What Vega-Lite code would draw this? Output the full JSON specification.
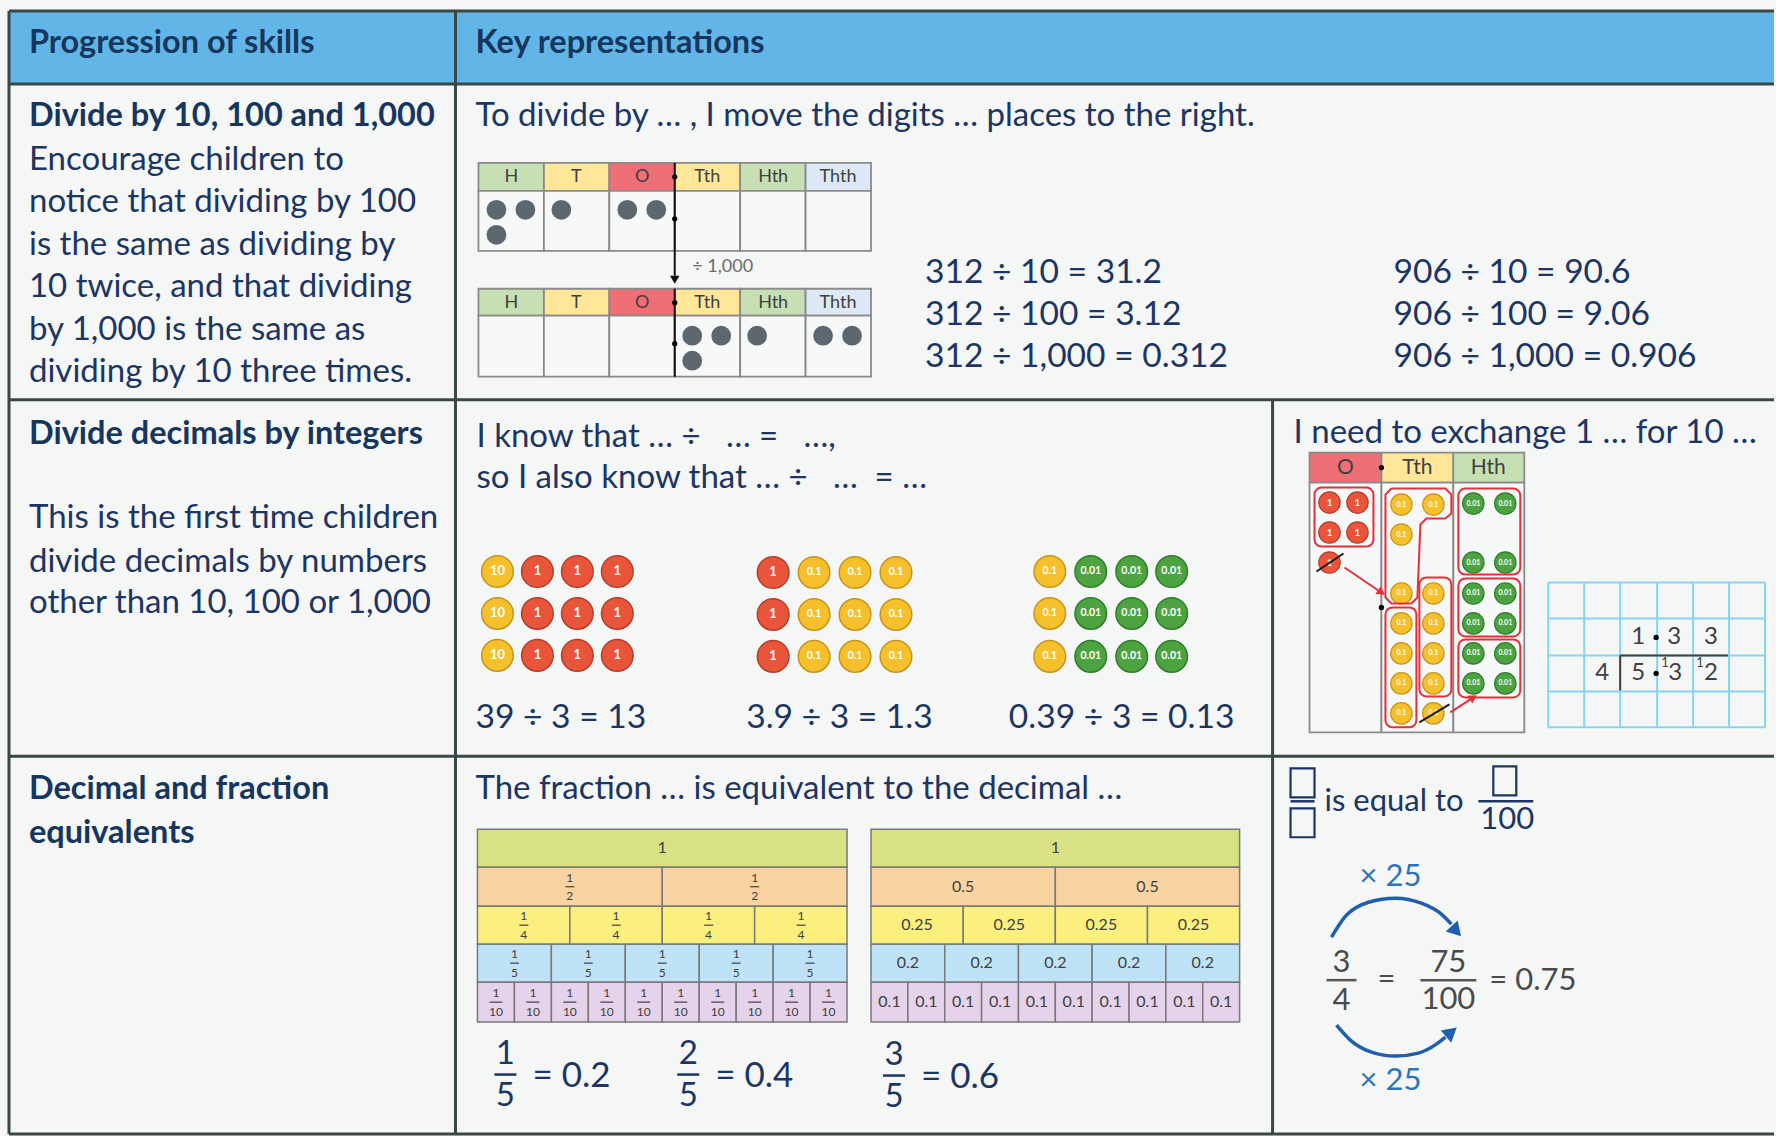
{
"$schema":"https://vega.github.io/schema/vega-lite/v6.json",
"width":1776,"height":1136,
"autosize":{"type":"fit","contains":"padding"},
"padding":0,
"background":"#f5f6f6",
"config":{"view":{"stroke":null},"text":{"font":"Lato"}},
"datasets":{
"tableLines":[
{"x":9,"y":11,"x2":1776,"y2":11},{"x":9,"y":84,"x2":1776,"y2":84},{"x":9,"y":400,"x2":1776,"y2":400},{"x":9,"y":757,"x2":1776,"y2":757},{"x":9,"y":1135,"x2":1776,"y2":1135},
{"x":9,"y":11,"x2":9,"y2":1135},{"x":456,"y":11,"x2":456,"y2":1135},{"x":1274,"y":400,"x2":1274,"y2":1135}],
"headerBand":[{"part":"header","x":9,"y":11,"x2":1776,"y2":84}],
"pvCells":[
{"zone":"H","x":479,"x2":544.5,"y":163,"y2":191},{"zone":"T","x":544.5,"x2":610,"y":163,"y2":191},{"zone":"O","x":610,"x2":675.5,"y":163,"y2":191},{"zone":"Tth","x":675.5,"x2":741,"y":163,"y2":191},{"zone":"Hth","x":741,"x2":806.5,"y":163,"y2":191},{"zone":"Thth","x":806.5,"x2":872,"y":163,"y2":191},
{"zone":"body","x":479,"x2":544.5,"y":191,"y2":251},{"zone":"body","x":544.5,"x2":610,"y":191,"y2":251},{"zone":"body","x":610,"x2":675.5,"y":191,"y2":251},{"zone":"body","x":675.5,"x2":741,"y":191,"y2":251},{"zone":"body","x":741,"x2":806.5,"y":191,"y2":251},{"zone":"body","x":806.5,"x2":872,"y":191,"y2":251},
{"zone":"H","x":479,"x2":544.5,"y":289,"y2":316},{"zone":"T","x":544.5,"x2":610,"y":289,"y2":316},{"zone":"O","x":610,"x2":675.5,"y":289,"y2":316},{"zone":"Tth","x":675.5,"x2":741,"y":289,"y2":316},{"zone":"Hth","x":741,"x2":806.5,"y":289,"y2":316},{"zone":"Thth","x":806.5,"x2":872,"y":289,"y2":316},
{"zone":"body","x":479,"x2":544.5,"y":316,"y2":377},{"zone":"body","x":544.5,"x2":610,"y":316,"y2":377},{"zone":"body","x":610,"x2":675.5,"y":316,"y2":377},{"zone":"body","x":675.5,"x2":741,"y":316,"y2":377},{"zone":"body","x":741,"x2":806.5,"y":316,"y2":377},{"zone":"body","x":806.5,"x2":872,"y":316,"y2":377},
{"zone":"O","x":1311,"x2":1383,"y":453,"y2":483},{"zone":"Tth","x":1383,"x2":1455,"y":453,"y2":483},{"zone":"Hth","x":1455,"x2":1526,"y":453,"y2":483},
{"zone":"body","x":1311,"x2":1383,"y":483,"y2":733},{"zone":"body","x":1383,"x2":1455,"y":483,"y2":733},{"zone":"body","x":1455,"x2":1526,"y":483,"y2":733}],
"wallCells":[
{"denom":"1","x":478,"x2":848,"y":830,"y2":868},
{"denom":"2","x":478,"x2":663,"y":868,"y2":907},{"denom":"2","x":663,"x2":848,"y":868,"y2":907},
{"denom":"4","x":478,"x2":570.5,"y":907,"y2":945},{"denom":"4","x":570.5,"x2":663,"y":907,"y2":945},{"denom":"4","x":663,"x2":755.5,"y":907,"y2":945},{"denom":"4","x":755.5,"x2":848,"y":907,"y2":945},
{"denom":"5","x":478,"x2":552,"y":945,"y2":983},{"denom":"5","x":552,"x2":626,"y":945,"y2":983},{"denom":"5","x":626,"x2":700,"y":945,"y2":983},{"denom":"5","x":700,"x2":774,"y":945,"y2":983},{"denom":"5","x":774,"x2":848,"y":945,"y2":983},
{"denom":"10","x":478,"x2":515,"y":983,"y2":1023},{"denom":"10","x":515,"x2":552,"y":983,"y2":1023},{"denom":"10","x":552,"x2":589,"y":983,"y2":1023},{"denom":"10","x":589,"x2":626,"y":983,"y2":1023},{"denom":"10","x":626,"x2":663,"y":983,"y2":1023},{"denom":"10","x":663,"x2":700,"y":983,"y2":1023},{"denom":"10","x":700,"x2":737,"y":983,"y2":1023},{"denom":"10","x":737,"x2":774,"y":983,"y2":1023},{"denom":"10","x":774,"x2":811,"y":983,"y2":1023},{"denom":"10","x":811,"x2":848,"y":983,"y2":1023},
{"denom":"1","x":872,"x2":1241,"y":830,"y2":868},
{"denom":"2","x":872,"x2":1056.5,"y":868,"y2":907},{"denom":"2","x":1056.5,"x2":1241,"y":868,"y2":907},
{"denom":"4","x":872,"x2":964.3,"y":907,"y2":945},{"denom":"4","x":964.3,"x2":1056.5,"y":907,"y2":945},{"denom":"4","x":1056.5,"x2":1148.8,"y":907,"y2":945},{"denom":"4","x":1148.8,"x2":1241,"y":907,"y2":945},
{"denom":"5","x":872,"x2":945.8,"y":945,"y2":983},{"denom":"5","x":945.8,"x2":1019.6,"y":945,"y2":983},{"denom":"5","x":1019.6,"x2":1093.4,"y":945,"y2":983},{"denom":"5","x":1093.4,"x2":1167.2,"y":945,"y2":983},{"denom":"5","x":1167.2,"x2":1241,"y":945,"y2":983},
{"denom":"10","x":872,"x2":908.9,"y":983,"y2":1023},{"denom":"10","x":908.9,"x2":945.8,"y":983,"y2":1023},{"denom":"10","x":945.8,"x2":982.7,"y":983,"y2":1023},{"denom":"10","x":982.7,"x2":1019.6,"y":983,"y2":1023},{"denom":"10","x":1019.6,"x2":1056.5,"y":983,"y2":1023},{"denom":"10","x":1056.5,"x2":1093.4,"y":983,"y2":1023},{"denom":"10","x":1093.4,"x2":1130.3,"y":983,"y2":1023},{"denom":"10","x":1130.3,"x2":1167.2,"y":983,"y2":1023},{"denom":"10","x":1167.2,"x2":1204.1,"y":983,"y2":1023},{"denom":"10","x":1204.1,"x2":1241,"y":983,"y2":1023}],
"pvDots":[
{"number":"312","place":"H","x":497,"y":210},{"number":"312","place":"H","x":526,"y":210},{"number":"312","place":"H","x":497,"y":235},{"number":"312","place":"T","x":562,"y":210},{"number":"312","place":"O","x":628,"y":210},{"number":"312","place":"O","x":657,"y":210},
{"number":"0.312","place":"Tth","x":693,"y":336},{"number":"0.312","place":"Tth","x":722,"y":336},{"number":"0.312","place":"Tth","x":693,"y":361},{"number":"0.312","place":"Hth","x":758,"y":336},{"number":"0.312","place":"Thth","x":824,"y":336},{"number":"0.312","place":"Thth","x":853,"y":336}],
"bigCounters":[
{"group":"39 ÷ 3","value":"10","x":498,"y":572},{"group":"39 ÷ 3","value":"1","x":538,"y":572},{"group":"39 ÷ 3","value":"1","x":578,"y":572},{"group":"39 ÷ 3","value":"1","x":618,"y":572},
{"group":"39 ÷ 3","value":"10","x":498,"y":614},{"group":"39 ÷ 3","value":"1","x":538,"y":614},{"group":"39 ÷ 3","value":"1","x":578,"y":614},{"group":"39 ÷ 3","value":"1","x":618,"y":614},
{"group":"39 ÷ 3","value":"10","x":498,"y":656},{"group":"39 ÷ 3","value":"1","x":538,"y":656},{"group":"39 ÷ 3","value":"1","x":578,"y":656},{"group":"39 ÷ 3","value":"1","x":618,"y":656},
{"group":"3.9 ÷ 3","value":"1","x":774,"y":573},{"group":"3.9 ÷ 3","value":"0.1","x":815,"y":573},{"group":"3.9 ÷ 3","value":"0.1","x":856,"y":573},{"group":"3.9 ÷ 3","value":"0.1","x":897,"y":573},
{"group":"3.9 ÷ 3","value":"1","x":774,"y":615},{"group":"3.9 ÷ 3","value":"0.1","x":815,"y":615},{"group":"3.9 ÷ 3","value":"0.1","x":856,"y":615},{"group":"3.9 ÷ 3","value":"0.1","x":897,"y":615},
{"group":"3.9 ÷ 3","value":"1","x":774,"y":657},{"group":"3.9 ÷ 3","value":"0.1","x":815,"y":657},{"group":"3.9 ÷ 3","value":"0.1","x":856,"y":657},{"group":"3.9 ÷ 3","value":"0.1","x":897,"y":657},
{"group":"0.39 ÷ 3","value":"0.1","x":1051,"y":572},{"group":"0.39 ÷ 3","value":"0.01","x":1092,"y":572},{"group":"0.39 ÷ 3","value":"0.01","x":1133,"y":572},{"group":"0.39 ÷ 3","value":"0.01","x":1173,"y":572},
{"group":"0.39 ÷ 3","value":"0.1","x":1051,"y":614},{"group":"0.39 ÷ 3","value":"0.01","x":1092,"y":614},{"group":"0.39 ÷ 3","value":"0.01","x":1133,"y":614},{"group":"0.39 ÷ 3","value":"0.01","x":1173,"y":614},
{"group":"0.39 ÷ 3","value":"0.1","x":1051,"y":657},{"group":"0.39 ÷ 3","value":"0.01","x":1092,"y":657},{"group":"0.39 ÷ 3","value":"0.01","x":1133,"y":657},{"group":"0.39 ÷ 3","value":"0.01","x":1173,"y":657}],
"smallCounters":[
{"value":"1","x":1331,"y":503},{"value":"1","x":1359,"y":503},{"value":"1","x":1331,"y":533},{"value":"1","x":1359,"y":533},{"value":"1","x":1331,"y":563},
{"value":"0.1","x":1403,"y":505},{"value":"0.1","x":1435,"y":505},{"value":"0.1","x":1403,"y":535},{"value":"0.1","x":1403,"y":594},{"value":"0.1","x":1435,"y":594},{"value":"0.1","x":1403,"y":624},{"value":"0.1","x":1435,"y":624},{"value":"0.1","x":1403,"y":654},{"value":"0.1","x":1435,"y":654},{"value":"0.1","x":1403,"y":684},{"value":"0.1","x":1435,"y":684},{"value":"0.1","x":1403,"y":714},{"value":"0.1","x":1435,"y":714},
{"value":"0.01","x":1475,"y":504},{"value":"0.01","x":1507,"y":504},{"value":"0.01","x":1475,"y":563},{"value":"0.01","x":1507,"y":563},{"value":"0.01","x":1475,"y":594},{"value":"0.01","x":1507,"y":594},{"value":"0.01","x":1475,"y":624},{"value":"0.01","x":1507,"y":624},{"value":"0.01","x":1475,"y":654},{"value":"0.01","x":1507,"y":654},{"value":"0.01","x":1475,"y":684},{"value":"0.01","x":1507,"y":684}],
"redGroups":[
{"x":1316,"x2":1375,"y":488,"y2":547},{"x":1421,"x2":1453,"y":578,"y2":697},{"x":1387,"x2":1418,"y":608,"y2":728},{"x":1460,"x2":1522,"y":489,"y2":575},{"x":1460,"x2":1522,"y":579,"y2":637},{"x":1460,"x2":1522,"y":640,"y2":698}],
"lPath":[
{"seq":1,"x":1393,"y":489},{"seq":2,"x":1447,"y":489},{"seq":3,"x":1453,"y":495},{"seq":4,"x":1453,"y":514},{"seq":5,"x":1447,"y":519},{"seq":6,"x":1428,"y":519},{"seq":7,"x":1422,"y":525},{"seq":8,"x":1419,"y":598},{"seq":9,"x":1413,"y":604},{"seq":10,"x":1393,"y":604},{"seq":11,"x":1387,"y":598},{"seq":12,"x":1387,"y":495},{"seq":13,"x":1393,"y":489}],
"thinLines":[
{"role":"decimal","x":675.5,"y":163,"x2":675.5,"y2":276},{"role":"decimal","x":675.5,"y":289,"x2":675.5,"y2":377},
{"role":"grid","x":1550,"y":583,"x2":1550,"y2":728},{"role":"grid","x":1586,"y":583,"x2":1586,"y2":728},{"role":"grid","x":1622,"y":583,"x2":1622,"y2":728},{"role":"grid","x":1659,"y":583,"x2":1659,"y2":728},{"role":"grid","x":1695,"y":583,"x2":1695,"y2":728},{"role":"grid","x":1731,"y":583,"x2":1731,"y2":728},{"role":"grid","x":1767,"y":583,"x2":1767,"y2":728},
{"role":"grid","x":1550,"y":583,"x2":1767,"y2":583},{"role":"grid","x":1550,"y":619,"x2":1767,"y2":619},{"role":"grid","x":1550,"y":656,"x2":1767,"y2":656},{"role":"grid","x":1550,"y":692,"x2":1767,"y2":692},{"role":"grid","x":1550,"y":728,"x2":1767,"y2":728},
{"role":"bracket","x":1622,"y":656,"x2":1730,"y2":656},{"role":"bracket","x":1622,"y":656,"x2":1622,"y2":691},
{"role":"cross","x":1318,"y":572,"x2":1345,"y2":554},{"role":"cross","x":1421,"y":723,"x2":1451,"y2":705},
{"role":"exchange","x":1346,"y":568,"x2":1380,"y2":591},{"role":"exchange","x":1452,"y":713,"x2":1472,"y2":700}],
"decimalDots":[
{"x":675.5,"y":177},{"x":675.5,"y":219},{"x":675.5,"y":303},{"x":675.5,"y":344},{"x":1383,"y":468},{"x":1383,"y":608},{"x":1658,"y":638},{"x":1658,"y":674}],
"heads":[
{"role":"shift","x":675.5,"y":280,"angle":90},{"role":"exchange","x":1383,"y":593,"angle":34},{"role":"exchange","x":1475,"y":698,"angle":327}],
"arcs":[
{"arc":"top","seq":1,"x":1333,"y":938},{"arc":"top","seq":2,"x":1347,"y":917},{"arc":"top","seq":3,"x":1370,"y":903},{"arc":"top","seq":4,"x":1397,"y":899},{"arc":"top","seq":5,"x":1423,"y":904},{"arc":"top","seq":6,"x":1443,"y":915},{"arc":"top","seq":7,"x":1453,"y":925},
{"arc":"bottom","seq":1,"x":1338,"y":1026},{"arc":"bottom","seq":2,"x":1353,"y":1042},{"arc":"bottom","seq":3,"x":1373,"y":1053},{"arc":"bottom","seq":4,"x":1397,"y":1057},{"arc":"bottom","seq":5,"x":1420,"y":1054},{"arc":"bottom","seq":6,"x":1438,"y":1045},{"arc":"bottom","seq":7,"x":1447,"y":1038}],
"blueHeads":[{"arc":"top","x":1458,"y":932,"angle":48},{"arc":"bottom","x":1453,"y":1033,"angle":320}],
"boxes":[{"x":1292,"x2":1316,"y":769,"y2":798},{"x":1292,"x2":1316,"y":809,"y2":838},{"x":1495,"x2":1518,"y":767,"y2":796}],
"smallBars":[
{"x":566,"x2":575,"y":887.5},{"x":751,"x2":760,"y":887.5},
{"x":520,"x2":529,"y":926},{"x":612.5,"x2":621.5,"y":926},{"x":705,"x2":714,"y":926},{"x":797.5,"x2":806.5,"y":926},
{"x":510.5,"x2":519.5,"y":964},{"x":584.5,"x2":593.5,"y":964},{"x":658.5,"x2":667.5,"y":964},{"x":732.5,"x2":741.5,"y":964},{"x":806.5,"x2":815.5,"y":964},
{"x":490,"x2":503,"y":1003},{"x":527,"x2":540,"y":1003},{"x":564,"x2":577,"y":1003},{"x":601,"x2":614,"y":1003},{"x":638,"x2":651,"y":1003},{"x":675,"x2":688,"y":1003},{"x":712,"x2":725,"y":1003},{"x":749,"x2":762,"y":1003},{"x":786,"x2":799,"y":1003},{"x":823,"x2":836,"y":1003}],
"bigBars":[
{"role":"eq","x":495,"x2":517,"y":1075.5},{"role":"eq","x":678,"x2":700,"y":1075.5},{"role":"eq","x":884,"x2":906,"y":1076.5},
{"role":"box","x":1292,"x2":1316,"y":802},{"role":"box","x":1480,"x2":1535,"y":802},
{"role":"math","x":1328,"x2":1358,"y":981},{"role":"math","x":1422,"x2":1478,"y":981}],
"boldText":[
{"text":"Progression of skills","x":29,"y":43},{"text":"Key representations","x":476,"y":43},{"text":"Divide by 10, 100 and 1,000","x":29,"y":116},{"text":"Divide decimals by integers","x":29,"y":434},{"text":"Decimal and fraction","x":29,"y":790},{"text":"equivalents","x":29,"y":834}],
"bodyText":[
{"text":"Encourage children to","x":29,"y":160},{"text":"notice that dividing by 100","x":29,"y":202},{"text":"is the same as dividing by","x":29,"y":245},{"text":"10 twice, and that dividing","x":29,"y":287},{"text":"by 1,000 is the same as","x":29,"y":330},{"text":"dividing by 10 three times.","x":29,"y":372},
{"text":"To divide by … , I move the digits … places to the right.","x":476,"y":116},
{"text":"This is the first time children","x":29,"y":518},{"text":"divide decimals by numbers","x":29,"y":562},{"text":"other than 10, 100 or 1,000","x":29,"y":604},
{"text":"I know that … ÷\u00a0\u00a0 … =\u00a0\u00a0 …,","x":477,"y":437},{"text":"so I also know that … ÷\u00a0\u00a0 …\u00a0 = …","x":477,"y":478},
{"text":"I need to exchange 1 … for 10 …","x":1295,"y":433},
{"text":"The fraction … is equivalent to the decimal …","x":476,"y":790}],
"equationText":[
{"text":"312 ÷ 10 = 31.2","x":926,"y":273},{"text":"312 ÷ 100 = 3.12","x":926,"y":315},{"text":"312 ÷ 1,000 = 0.312","x":926,"y":357},
{"text":"906 ÷ 10 = 90.6","x":1395,"y":273},{"text":"906 ÷ 100 = 9.06","x":1395,"y":315},{"text":"906 ÷ 1,000 = 0.906","x":1395,"y":357},
{"text":"39 ÷ 3 = 13","x":476,"y":719},{"text":"3.9 ÷ 3 = 1.3","x":747,"y":719},{"text":"0.39 ÷ 3 = 0.13","x":1010,"y":719}],
"noteText":[{"text":"÷ 1,000","x":693,"y":267}],
"eqText":[{"text":"= 0.2","x":533,"y":1077},{"text":"= 0.4","x":716,"y":1077},{"text":"= 0.6","x":922,"y":1078}],
"left31":[{"role":"prompt","text":"is equal to","x":1326,"y":803},{"role":"math","text":"= 0.75","x":1491,"y":982}],
"center18":[
{"text":"H","x":512,"y":177},{"text":"T","x":577,"y":177},{"text":"O","x":643,"y":177},{"text":"Tth","x":708,"y":177},{"text":"Hth","x":774,"y":177},{"text":"Thth","x":839,"y":177},
{"text":"H","x":512,"y":303},{"text":"T","x":577,"y":303},{"text":"O","x":643,"y":303},{"text":"Tth","x":708,"y":303},{"text":"Hth","x":774,"y":303},{"text":"Thth","x":839,"y":303}],
"center16":[
{"text":"1","x":663,"y":849},{"text":"1","x":1056.5,"y":849},
{"text":"0.5","x":964.3,"y":887.5},{"text":"0.5","x":1148.8,"y":887.5},
{"text":"0.25","x":918.1,"y":926},{"text":"0.25","x":1010.4,"y":926},{"text":"0.25","x":1102.6,"y":926},{"text":"0.25","x":1194.9,"y":926},
{"text":"0.2","x":908.9,"y":964},{"text":"0.2","x":982.7,"y":964},{"text":"0.2","x":1056.5,"y":964},{"text":"0.2","x":1130.3,"y":964},{"text":"0.2","x":1204.1,"y":964},
{"text":"0.1","x":890.5,"y":1003},{"text":"0.1","x":927.4,"y":1003},{"text":"0.1","x":964.3,"y":1003},{"text":"0.1","x":1001.2,"y":1003},{"text":"0.1","x":1038.1,"y":1003},{"text":"0.1","x":1075,"y":1003},{"text":"0.1","x":1111.9,"y":1003},{"text":"0.1","x":1148.8,"y":1003},{"text":"0.1","x":1185.7,"y":1003},{"text":"0.1","x":1222.6,"y":1003}],
"center21":[{"text":"O","x":1347,"y":468},{"text":"Tth","x":1419,"y":468},{"text":"Hth","x":1490,"y":468}],
"center24":[{"text":"1","x":1640,"y":638},{"text":"3","x":1676,"y":638},{"text":"3","x":1713,"y":638},{"text":"4","x":1604,"y":674},{"text":"5","x":1640,"y":674},{"text":"3","x":1677,"y":674},{"text":"2","x":1713,"y":674}],
"center13":[{"text":"1","x":1667,"y":664},{"text":"1","x":1702,"y":664}],
"center12":[
{"text":"1","x":570.5,"y":878.5},{"text":"2","x":570.5,"y":897},{"text":"1","x":755.5,"y":878.5},{"text":"2","x":755.5,"y":897},
{"text":"1","x":524.3,"y":917},{"text":"4","x":524.3,"y":935.5},{"text":"1","x":616.8,"y":917},{"text":"4","x":616.8,"y":935.5},{"text":"1","x":709.3,"y":917},{"text":"4","x":709.3,"y":935.5},{"text":"1","x":801.8,"y":917},{"text":"4","x":801.8,"y":935.5},
{"text":"1","x":515,"y":955},{"text":"5","x":515,"y":973.5},{"text":"1","x":589,"y":955},{"text":"5","x":589,"y":973.5},{"text":"1","x":663,"y":955},{"text":"5","x":663,"y":973.5},{"text":"1","x":737,"y":955},{"text":"5","x":737,"y":973.5},{"text":"1","x":811,"y":955},{"text":"5","x":811,"y":973.5},
{"text":"1","x":496.5,"y":994},{"text":"10","x":496.5,"y":1012.5},{"text":"1","x":533.5,"y":994},{"text":"10","x":533.5,"y":1012.5},{"text":"1","x":570.5,"y":994},{"text":"10","x":570.5,"y":1012.5},{"text":"1","x":607.5,"y":994},{"text":"10","x":607.5,"y":1012.5},{"text":"1","x":644.5,"y":994},{"text":"10","x":644.5,"y":1012.5},{"text":"1","x":681.5,"y":994},{"text":"10","x":681.5,"y":1012.5},{"text":"1","x":718.5,"y":994},{"text":"10","x":718.5,"y":1012.5},{"text":"1","x":755.5,"y":994},{"text":"10","x":755.5,"y":1012.5},{"text":"1","x":792.5,"y":994},{"text":"10","x":792.5,"y":1012.5},{"text":"1","x":829.5,"y":994},{"text":"10","x":829.5,"y":1012.5}],
"center34":[{"text":"1","x":506,"y":1055},{"text":"5","x":506,"y":1096.5},{"text":"2","x":689,"y":1055},{"text":"5","x":689,"y":1096.5},{"text":"3","x":895,"y":1056},{"text":"5","x":895,"y":1097.5}],
"center31":[
{"role":"box","text":"100","x":1509,"y":821},
{"role":"times","text":"× 25","x":1392,"y":878},{"role":"times","text":"× 25","x":1392,"y":1082},
{"role":"math","text":"3","x":1343,"y":964},{"role":"math","text":"4","x":1343,"y":1002},{"role":"math","text":"=","x":1388,"y":981},{"role":"math","text":"75","x":1450,"y":964},{"role":"math","text":"100","x":1450,"y":1001}]
},
"encoding":{
"x":{"field":"x","type":"quantitative","scale":{"domain":[0,1776],"nice":false,"zero":false},"axis":null},
"y":{"field":"y","type":"quantitative","scale":{"domain":[0,1136],"nice":false,"zero":false,"reverse":true},"axis":null}
},
"resolve":{"scale":{"fill":"independent","stroke":"independent","color":"independent","angle":"independent"}},
"layer":[
{"data":{"name":"headerBand"},"mark":{"type":"rect","fill":"#62b6e7"},"encoding":{"x2":{"field":"x2"},"y2":{"field":"y2"}}},
{"data":{"name":"pvCells"},"mark":{"type":"rect","stroke":"#8a8a8a","strokeWidth":1.8},"encoding":{"x2":{"field":"x2"},"y2":{"field":"y2"},
 "fill":{"field":"zone","type":"nominal","legend":null,"scale":{"domain":["H","T","O","Tth","Hth","Thth","body"],"range":["#c6e0b4","#ffe699","#ef6f77","#ffe699","#c6e0b4","#dde9f6","#f7f8f8"]}}}},
{"data":{"name":"wallCells"},"mark":{"type":"rect","stroke":"#7a7a7a","strokeWidth":1.5},"encoding":{"x2":{"field":"x2"},"y2":{"field":"y2"},
 "fill":{"field":"denom","type":"nominal","legend":null,"scale":{"domain":["1","2","4","5","10"],"range":["#d8e285","#f9d3a1","#fbef7d","#bfe3f6","#e4d3ea"]}}}},
{"data":{"name":"tableLines"},"mark":{"type":"rule","stroke":"#3a4747","strokeWidth":3},"encoding":{"x2":{"field":"x2"},"y2":{"field":"y2"}}},
{"data":{"name":"pvDots"},"mark":{"type":"circle","size":390,"color":"#5c6770","opacity":1},"encoding":{}},
{"data":{"name":"bigCounters"},"mark":{"type":"point","shape":"circle","filled":true,"size":1000,"strokeWidth":1.5,"opacity":1},"encoding":{
 "fill":{"field":"value","type":"nominal","legend":null,"scale":{"domain":["10","1","0.1","0.01"],"range":["#f6bf2c","#e8553b","#f6bf2c","#4ea341"]}},
 "stroke":{"field":"value","type":"nominal","legend":null,"scale":{"domain":["10","1","0.1","0.01"],"range":["#c4951c","#b23f2b","#c4951c","#2f7c2c"]}}}},
{"data":{"name":"smallCounters"},"mark":{"type":"point","shape":"circle","filled":true,"size":460,"strokeWidth":1.2,"opacity":1},"encoding":{
 "fill":{"field":"value","type":"nominal","legend":null,"scale":{"domain":["1","0.1","0.01"],"range":["#e8553b","#f6bf2c","#4ea341"]}},
 "stroke":{"field":"value","type":"nominal","legend":null,"scale":{"domain":["1","0.1","0.01"],"range":["#b23f2b","#c4951c","#2f7c2c"]}}}},
{"data":{"name":"bigCounters"},"transform":[{"filter":"datum.value == '10' || datum.value == '1'"}],"mark":{"type":"text","color":"white","fontSize":13,"fontWeight":"bold","baseline":"middle","align":"center"},"encoding":{"text":{"field":"value"}}},
{"data":{"name":"bigCounters"},"transform":[{"filter":"datum.value == '0.1' || datum.value == '0.01'"}],"mark":{"type":"text","color":"white","fontSize":10.5,"fontWeight":"bold","baseline":"middle","align":"center"},"encoding":{"text":{"field":"value"}}},
{"data":{"name":"smallCounters"},"transform":[{"filter":"datum.value == '1'"}],"mark":{"type":"text","color":"white","fontSize":9,"fontWeight":"bold","baseline":"middle","align":"center"},"encoding":{"text":{"field":"value"}}},
{"data":{"name":"smallCounters"},"transform":[{"filter":"datum.value != '1'"}],"mark":{"type":"text","color":"white","fontSize":7,"fontWeight":"bold","baseline":"middle","align":"center"},"encoding":{"text":{"field":"value"}}},
{"data":{"name":"redGroups"},"mark":{"type":"rect","fill":null,"fillOpacity":0,"stroke":"#e5303a","strokeWidth":2,"cornerRadius":7},"encoding":{"x2":{"field":"x2"},"y2":{"field":"y2"}}},
{"data":{"name":"lPath"},"mark":{"type":"line","stroke":"#e5303a","strokeWidth":2,"interpolate":"linear"},"encoding":{"order":{"field":"seq","type":"quantitative"}}},
{"data":{"name":"thinLines"},"mark":{"type":"rule","strokeWidth":2},"encoding":{"x2":{"field":"x2"},"y2":{"field":"y2"},
 "stroke":{"field":"role","type":"nominal","legend":null,"scale":{"domain":["decimal","grid","bracket","cross","exchange"],"range":["#111111","#84d5f4","#404040","#1a1a1a","#e5303a"]}}}},
{"data":{"name":"decimalDots"},"mark":{"type":"circle","size":28,"color":"#000000","opacity":1},"encoding":{}},
{"data":{"name":"heads"},"mark":{"type":"point","shape":"triangle-right","filled":true,"size":90,"opacity":1},"encoding":{
 "angle":{"field":"angle","type":"quantitative","scale":{"domain":[0,360],"range":[0,360]}},
 "fill":{"field":"role","type":"nominal","legend":null,"scale":{"domain":["shift","exchange"],"range":["#111111","#e5303a"]}}}},
{"data":{"name":"arcs"},"mark":{"type":"line","stroke":"#1f5fae","strokeWidth":3.5,"interpolate":"monotone"},"encoding":{"detail":{"field":"arc"},"order":{"field":"seq","type":"quantitative"}}},
{"data":{"name":"blueHeads"},"mark":{"type":"point","shape":"triangle-right","filled":true,"size":260,"color":"#1f5fae","opacity":1},"encoding":{
 "angle":{"field":"angle","type":"quantitative","scale":{"domain":[0,360],"range":[0,360]}}}},
{"data":{"name":"boxes"},"mark":{"type":"rect","fill":null,"fillOpacity":0,"stroke":"#1c3561","strokeWidth":2.2},"encoding":{"x2":{"field":"x2"},"y2":{"field":"y2"}}},
{"data":{"name":"smallBars"},"mark":{"type":"rule","stroke":"#404040","strokeWidth":1.2},"encoding":{"x2":{"field":"x2"}}},
{"data":{"name":"bigBars"},"mark":{"type":"rule","strokeWidth":2.5},"encoding":{"x2":{"field":"x2"},
 "stroke":{"field":"role","type":"nominal","legend":null,"scale":{"domain":["eq","box","math"],"range":["#1c3561","#1c3561","#555555"]}}}},
{"data":{"name":"boldText"},"mark":{"type":"text","fontSize":32.5,"fontWeight":"bold","color":"#17365d","align":"left","baseline":"middle"},"encoding":{"text":{"field":"text"}}},
{"data":{"name":"bodyText"},"mark":{"type":"text","fontSize":33,"color":"#1c3561","align":"left","baseline":"middle"},"encoding":{"text":{"field":"text"}}},
{"data":{"name":"equationText"},"mark":{"type":"text","fontSize":33.6,"color":"#1c3561","align":"left","baseline":"middle"},"encoding":{"text":{"field":"text"}}},
{"data":{"name":"noteText"},"mark":{"type":"text","fontSize":18,"color":"#6b6b6b","align":"left","baseline":"middle"},"encoding":{"text":{"field":"text"}}},
{"data":{"name":"eqText"},"mark":{"type":"text","fontSize":35,"color":"#1c3561","align":"left","baseline":"middle"},"encoding":{"text":{"field":"text"}}},
{"data":{"name":"left31"},"mark":{"type":"text","fontSize":31,"align":"left","baseline":"middle"},"encoding":{"text":{"field":"text"},
 "color":{"field":"role","type":"nominal","legend":null,"scale":{"domain":["prompt","math"],"range":["#1c3561","#4a4a4a"]}}}},
{"data":{"name":"center18"},"mark":{"type":"text","fontSize":18,"color":"#404040","align":"center","baseline":"middle"},"encoding":{"text":{"field":"text"}}},
{"data":{"name":"center16"},"mark":{"type":"text","fontSize":16,"color":"#404040","align":"center","baseline":"middle"},"encoding":{"text":{"field":"text"}}},
{"data":{"name":"center21"},"mark":{"type":"text","fontSize":21,"color":"#404040","align":"center","baseline":"middle"},"encoding":{"text":{"field":"text"}}},
{"data":{"name":"center24"},"mark":{"type":"text","fontSize":24,"color":"#404040","align":"center","baseline":"middle"},"encoding":{"text":{"field":"text"}}},
{"data":{"name":"center13"},"mark":{"type":"text","fontSize":13,"color":"#404040","align":"center","baseline":"middle"},"encoding":{"text":{"field":"text"}}},
{"data":{"name":"center12"},"mark":{"type":"text","fontSize":12,"color":"#404040","align":"center","baseline":"middle"},"encoding":{"text":{"field":"text"}}},
{"data":{"name":"center34"},"mark":{"type":"text","fontSize":33,"color":"#1c3561","align":"center","baseline":"middle"},"encoding":{"text":{"field":"text"}}},
{"data":{"name":"center31"},"mark":{"type":"text","fontSize":31,"align":"center","baseline":"middle"},"encoding":{"text":{"field":"text"},
 "color":{"field":"role","type":"nominal","legend":null,"scale":{"domain":["box","times","math"],"range":["#1c3561","#2e75b6","#4a4a4a"]}}}}
]
}
